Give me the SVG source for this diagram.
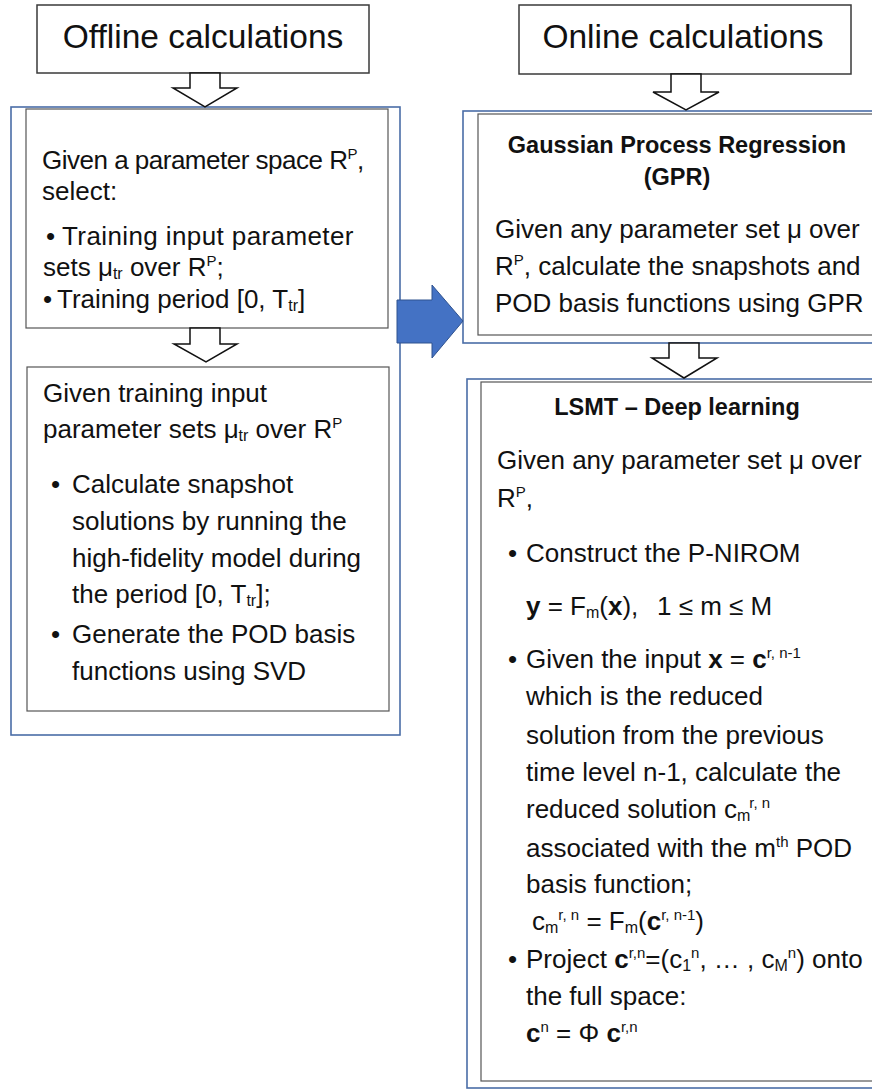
<svg xmlns="http://www.w3.org/2000/svg" width="872" height="1091" viewBox="0 0 872 1091">
<style>
text{font-family:"Liberation Sans",Arial,sans-serif;font-size:26px;fill:#111}
.hd{font-size:33.5px}
.b{font-weight:bold;font-size:23.5px}
.bb{font-weight:bold}
.sup{font-size:15px;baseline-shift:10px}
.sub{font-size:16px;baseline-shift:-3px}
.hdr{fill:#fff;stroke:#3a3a3a;stroke-width:1.5}
.outer{fill:none;stroke:#4a6da7;stroke-width:1.6}
.inner{fill:#fff;stroke:#555;stroke-width:1.2}
.hol{fill:#fff;stroke:#111;stroke-width:1.5;stroke-linejoin:miter}
.blue{fill:#4472c4;stroke:#2f528f;stroke-width:1}
</style>
<rect width="872" height="1091" fill="#fff"/>

<g id="offline-header">
<rect class="hdr" x="37" y="5" width="332" height="68"/>
<text class="hd" x="203" y="48" text-anchor="middle">Offline calculations</text>
</g>

<g id="online-header">
<rect class="hdr" x="519" y="5" width="332" height="69"/>
<text class="hd" x="683" y="48" text-anchor="middle">Online calculations</text>
</g>

<g id="offline-group">
<rect class="outer" x="11" y="107" width="389" height="628"/>
</g>

<g id="select-box">
<rect class="inner" x="26" y="109" width="362" height="219"/>
<text x="42" y="169" letter-spacing="-0.5">Given a parameter space R<tspan class="sup">P</tspan>,</text>
<text x="42" y="200">select:</text>
<text x="46" y="245">•</text>
<text x="62" y="245" letter-spacing="0.4">Training input parameter</text>
<text x="43" y="276">sets μ<tspan class="sub">tr</tspan> over R<tspan class="sup">P</tspan>;</text>
<text x="43" y="308">•</text>
<text x="57" y="308">Training period [0, T<tspan class="sub">tr</tspan>]</text>
</g>

<g id="snapshot-box">
<rect class="inner" x="27" y="367" width="362" height="344"/>
<text x="43" y="402">Given training input</text>
<text x="43" y="438">parameter sets μ<tspan class="sub">tr</tspan> over R<tspan class="sup">P</tspan></text>
<text x="51" y="493">•</text>
<text x="72" y="493">Calculate snapshot</text>
<text x="72" y="530">solutions by running the</text>
<text x="72" y="567">high-fidelity model during</text>
<text x="72" y="603">the period [0, T<tspan class="sub">tr</tspan>];</text>
<text x="51" y="643">•</text>
<text x="72" y="643">Generate the POD basis</text>
<text x="72" y="680">functions using SVD</text>
</g>

<g id="gpr-box">
<rect class="outer" x="463" y="111" width="420" height="232"/>
<rect class="inner" x="478" y="114" width="400" height="221"/>
<text class="b" x="677" y="153" text-anchor="middle">Gaussian Process Regression</text>
<text class="b" x="677" y="185" text-anchor="middle">(GPR)</text>
<text x="495" y="238">Given any parameter set μ over</text>
<text x="495" y="275">R<tspan class="sup">P</tspan>, calculate the snapshots and</text>
<text x="495" y="312">POD basis functions using GPR</text>
</g>

<g id="lstm-box">
<rect class="outer" x="467" y="379" width="420" height="709"/>
<rect class="inner" x="481" y="382" width="400" height="699"/>
<text class="b" x="677" y="415" text-anchor="middle">LSMT – Deep learning</text>
<text x="497" y="469">Given any parameter set μ over</text>
<text x="497" y="507">R<tspan class="sup">P</tspan>,</text>
<text x="508" y="562">•</text>
<text x="526" y="562">Construct the P-NIROM</text>
<text x="526" y="615"><tspan class="bb">y</tspan> = F<tspan class="sub">m</tspan>(<tspan class="bb">x</tspan>),</text>
<text x="657" y="615">1 ≤ m ≤ M</text>
<text x="508" y="668">•</text>
<text x="526" y="668">Given the input <tspan class="bb">x</tspan> = <tspan class="bb">c</tspan><tspan class="sup">r, n-1</tspan></text>
<text x="526" y="705">which is the reduced</text>
<text x="526" y="744">solution from the previous</text>
<text x="526" y="781">time level n-1, calculate the</text>
<text x="526" y="818">reduced solution c<tspan class="sub">m</tspan><tspan class="sup" dx="-1">r, n</tspan></text>
<text x="526" y="857">associated with the m<tspan class="sup">th</tspan> POD</text>
<text x="526" y="893">basis function;</text>
<text x="532" y="930">c<tspan class="sub">m</tspan><tspan class="sup">r, n</tspan> = F<tspan class="sub">m</tspan>(<tspan class="bb">c</tspan><tspan class="sup">r, n-1</tspan>)</text>
<text x="508" y="968">•</text>
<text x="526" y="968">Project <tspan class="bb">c</tspan><tspan class="sup">r,n</tspan>=(c<tspan class="sub">1</tspan><tspan class="sup">n</tspan>, … , c<tspan class="sub">M</tspan><tspan class="sup">n</tspan>) onto</text>
<text x="526" y="1005">the full space:</text>
<text x="526" y="1042"><tspan class="bb">c</tspan><tspan class="sup">n</tspan> = Φ <tspan class="bb">c</tspan><tspan class="sup">r,n</tspan></text>
</g>

<g id="connectors">
<polygon class="hol" points="190,73 220,73 220,88 237,88 205,107 173,88 190,88"/>
<polygon class="hol" points="190,328 220,328 220,344 237,344 206,362 174,344 190,344"/>
<polygon class="hol" points="671,74 701,74 701,92 719,92 686,110 653,92 671,92"/>
<polygon class="hol" points="669,343 699,343 699,358 717,358 684,378 652,358 669,358"/>
<polygon class="blue" points="397,300 432,300 432,285 463,321 432,358 432,343 397,343"/>
</g>
</svg>
